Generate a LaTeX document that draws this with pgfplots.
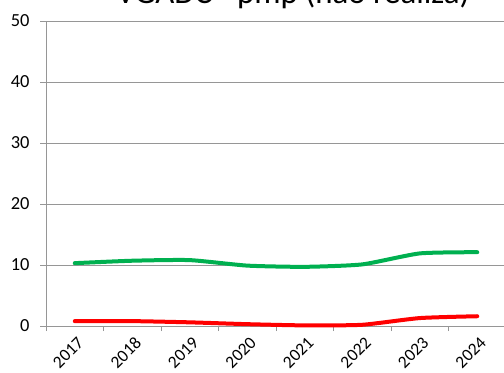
\documentclass[border=0pt]{standalone}
\usepackage{fontspec}
\setmainfont{Carlito}
\usepackage{pgfplots}
\pgfplotsset{compat=1.18}
\definecolor{exgreen}{RGB}{0,176,80}
\definecolor{exred}{RGB}{255,0,0}
\definecolor{gridgray}{RGB}{150,150,150}
\begin{document}
\begin{tikzpicture}
\begin{axis}[
  at={(46bp,47bp)}, anchor=south west,
  scale only axis, width=460bp, height=305bp,
  xmin=-0.5, xmax=7.5, ymin=0, ymax=50,
  axis x line*=bottom, axis y line*=left,
  axis line style={gridgray, line width=0.8bp},
  ytick={0,10,...,50},
  ymajorgrids, grid style={gridgray, line width=0.8bp},
  xtick={0,...,7},
  xticklabels={2017,2018,2019,2020,2021,2022,2023,2024},
  minor xtick={-0.5,0.5,...,7.5},
  tick align=outside,
  major tick length=6bp, minor tick length=5bp,
  x tick style={draw=none},
  minor x tick style={draw=gridgray, line width=0.8bp},
  y tick style={gridgray, line width=0.8bp},
  /pgf/number format/assume math mode=true,
  yticklabel style={font=\fontsize{18.5}{20}\selectfont, anchor=east, xshift=-7bp},
  xticklabel style={font=\fontsize{17.5}{19}\selectfont, rotate=45, anchor=east, xshift=2bp, yshift=-10bp},
  clip=false,
]
\addplot[exgreen, line width=4bp, line cap=round, smooth, tension=0.35] coordinates {
 (0,10.3) (1,10.7) (2,10.8) (3,9.9) (4,9.7) (5,10.1) (6,11.9) (7,12.1)};
\addplot[exred, line width=4bp, line cap=round, smooth, tension=0.35] coordinates {
 (0,0.8) (1,0.8) (2,0.6) (3,0.3) (4,0.1) (5,0.2) (6,1.3) (7,1.6)};
\end{axis}
\node[anchor=base, font=\fontsize{33}{36}\selectfont, inner sep=0] at (293bp,369bp) {VGADC - pmp (não realiza)};
\pgfresetboundingbox
\useasboundingbox (0,0) rectangle (504bp,373bp);
\end{tikzpicture}
\end{document}
